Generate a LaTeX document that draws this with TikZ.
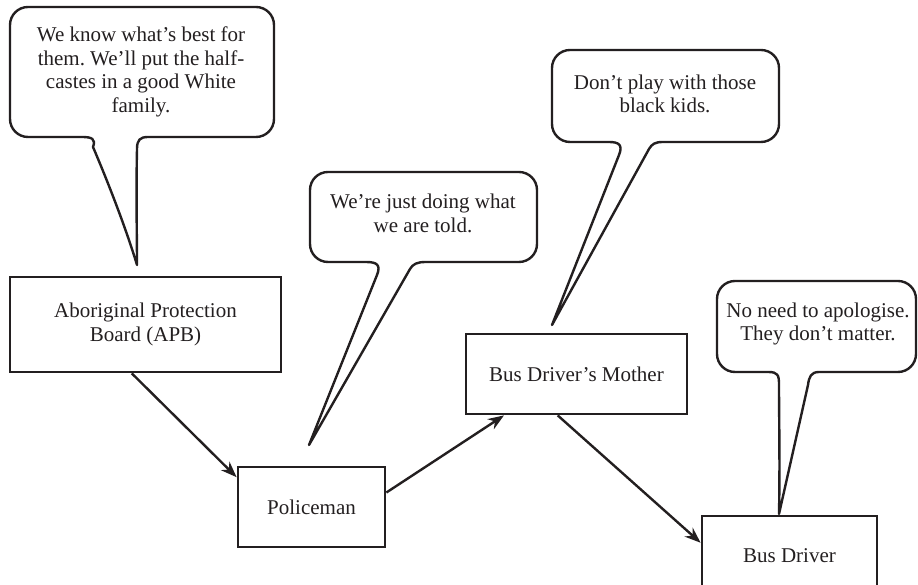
\documentclass[tikz,border=0pt]{standalone}
\usepackage{fontspec}
\setmainfont{Liberation Serif}
\frenchspacing
\usetikzlibrary{arrows.meta,calc}
\definecolor{ink}{RGB}{35,31,32}
\begin{document}
\begin{tikzpicture}[x=1pt,y=1pt,
  box/.style={draw=ink, line width=2.8pt, rectangle, inner sep=0pt, align=center, text=ink, font=\fontsize{21}{23.5}\selectfont},
  bubble/.style={draw=ink, line width=2.4pt, line join=round, fill=white},
  say/.style={align=center, text=ink, font=\fontsize{21}{23.5}\selectfont, inner sep=0pt},
  link/.style={draw=ink, line width=2.4pt, -{Stealth[length=16pt,width=12pt]}}]
\useasboundingbox (0,0) rectangle (918,585);
\clip (0,0) rectangle (918,585);

% speech bubbles
\draw[bubble] (28,578) -- (256,578) arc[start angle=90,end angle=0,radius=18]
  -- (274,466) arc[start angle=0,end angle=-90,radius=18]
  -- (148,448) .. controls (140,448) and (137,445) .. (137,436)
  .. controls (136,390) and (137,350) .. (137,320)
  .. controls (125,360) and (105,410) .. (93,438) .. controls (96,446) and (92,448) .. (82,448)
  -- (28,448) arc[start angle=270,end angle=180,radius=18]
  -- (10,560) arc[start angle=180,end angle=90,radius=18] -- cycle;

\draw[bubble] (328,413) -- (519,413) arc[start angle=90,end angle=0,radius=18]
  -- (537,341) arc[start angle=0,end angle=-90,radius=18]
  -- (426,323) .. controls (417,323) and (413,321) .. (410,316)
  -- (309,140) -- (377,310) .. controls (381,320) and (377,323) .. (366,323)
  -- (328,323) arc[start angle=270,end angle=180,radius=18]
  -- (310,395) arc[start angle=180,end angle=90,radius=18] -- cycle;

\draw[bubble] (570,535) -- (761,535) arc[start angle=90,end angle=0,radius=18]
  -- (779,461) arc[start angle=0,end angle=-90,radius=18]
  -- (663,443) .. controls (655,443) and (652,441) .. (649,436)
  -- (552,260) -- (619,430) .. controls (623,440) and (619,443) .. (609,443)
  -- (570,443) arc[start angle=270,end angle=180,radius=18]
  -- (552,517) arc[start angle=180,end angle=90,radius=18] -- cycle;

\draw[bubble] (735,304) -- (898,304) arc[start angle=90,end angle=0,radius=18]
  -- (916,231) arc[start angle=0,end angle=-90,radius=18]
  -- (819,213) .. controls (811,213) and (809,208) .. (808,200)
  -- (779,71) .. controls (780,120) and (779,170) .. (779,200) .. controls (779,210) and (778,213) .. (768,213)
  -- (735,213) arc[start angle=270,end angle=180,radius=18]
  -- (717,286) arc[start angle=180,end angle=90,radius=18] -- cycle;

\node[say] (s1) at (141,513) {We know what’s best for\\them. We’ll put the half-\\castes in a good White\\family.};
\node[say] (s2) at (423,371.5) {We’re just doing what\\we are told.};
\node[say] (s3) at (665,491) {Don’t play with those\\black kids.};
\node[say] (s4) at (818,261) {No need to apologise.\\They don’t matter.};

% boxes
\node[box, minimum width=271pt, minimum height=95pt] (apb) at (145.5,260.5) {Aboriginal Protection\\Board (APB)};
\node[box, minimum width=147pt, minimum height=80pt] (pol) at (311.5,78) {Policeman};
\node[box, minimum width=221pt, minimum height=80pt] (mom) at (576.5,211) {Bus Driver’s Mother};
\node[box, minimum width=175pt, minimum height=80pt] (drv) at (789.5,29) {Bus Driver};

% connectors
\draw[link] ($(apb.south west)!0.45!(apb.south east)$) -- ($(pol.north west)!0.14!(pol.south west)$);
\draw[link] ($(pol.north east)!0.325!(pol.south east)$) -- ($(mom.south west)!0.176!(mom.south east)$);
\draw[link] ($(mom.south west)!0.416!(mom.south east)$) -- ($(drv.north west)!0.34!(drv.south west)$);
\end{tikzpicture}
\end{document}
